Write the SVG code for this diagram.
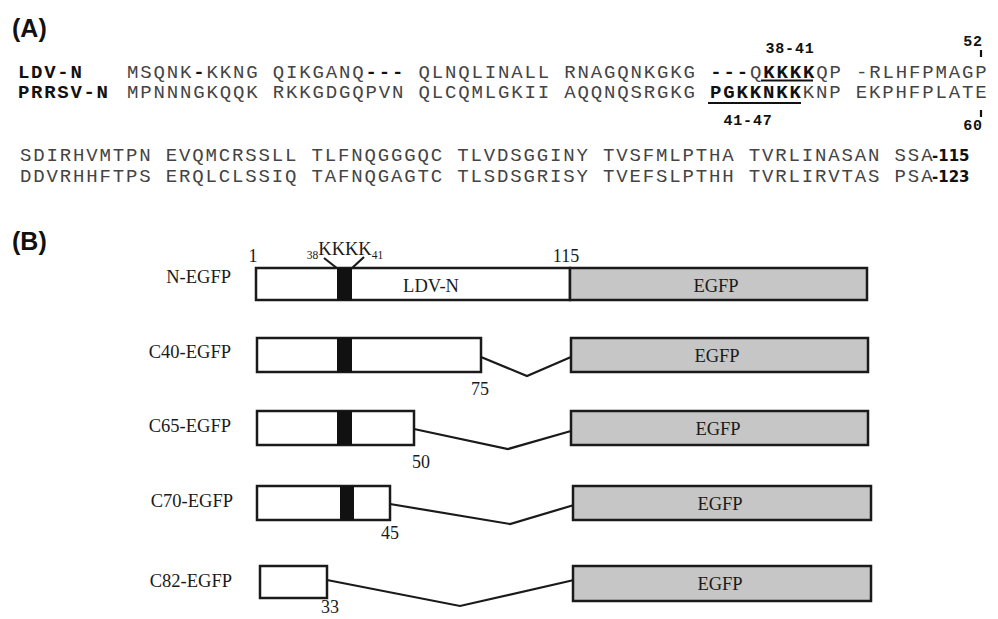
<svg xmlns="http://www.w3.org/2000/svg" width="998" height="619" viewBox="0 0 998 619">
<style>
.panel{font-family:"Liberation Sans",Arial,sans-serif;font-weight:bold;font-size:25px;fill:#111}
.seq{font-family:"Liberation Mono","Courier New",monospace;font-size:19px;letter-spacing:1.85px;fill:#444}
.seq .b{font-weight:bold;fill:#111}
.name{font-family:"Liberation Mono","Courier New",monospace;font-size:19px;letter-spacing:1.7px;font-weight:bold;fill:#111}
.num{font-family:"Liberation Mono","Courier New",monospace;font-size:15px;font-weight:bold;fill:#111;letter-spacing:0.8px}
.end{font-family:"DejaVu Sans",Verdana,sans-serif;font-size:15px;font-weight:bold;fill:#111}
.lbl{font-family:"Liberation Serif","Times New Roman",serif;font-size:18.5px;fill:#1a1a1a}
.pos{font-family:"Liberation Serif","Times New Roman",serif;font-size:18px;fill:#1a1a1a}
.motif{font-family:"Liberation Serif","Times New Roman",serif;fill:#1a1a1a}
.big{font-size:18.5px}
.sub{font-size:11.5px}
.white{fill:#fff;stroke:#1a1a1a;stroke-width:2.5}
.gray{fill:#c5c6c5;stroke:#1a1a1a;stroke-width:2.5}
.blk{fill:#111}
.ln{fill:none;stroke:#1a1a1a;stroke-width:2.2}
.ul{stroke:#111;stroke-width:2.2}
</style>

<!-- Panel A -->
<g id="panelA">
<text class="panel" x="12" y="37">(A)</text>
<text class="name" x="18" y="78">LDV-N</text>
<text class="name" x="18" y="98">PRRSV-N</text>
<text class="seq" x="127" y="78" xml:space="preserve">MSQNK<tspan class="b">-</tspan>KKNG QIKGANQ<tspan class="b">---</tspan> QLNQLINALL RNAGQNKGKG <tspan class="b">---</tspan>Q<tspan class="b">KKKK</tspan>QP -RLHFPMAGP</text>
<text class="seq" x="127" y="98" xml:space="preserve">MPNNNGKQQK RKKGDGQPVN QLCQMLGKII AQQNQSRGKG <tspan class="b">PGKKNKK</tspan>KNP EKPHFPLATE</text>
<line class="ul" x1="761" y1="80.5" x2="813" y2="80.5"/>
<line class="ul" x1="708" y1="103" x2="801" y2="103"/>
<text class="num" x="790" y="53" text-anchor="middle">38-41</text>
<text class="num" x="748" y="125" text-anchor="middle">41-47</text>
<text class="num" x="973" y="46" text-anchor="middle">52</text>
<line class="ul" x1="981" y1="50" x2="981" y2="57"/>
<text class="num" x="973" y="130" text-anchor="middle">60</text>
<line class="ul" x1="981" y1="110" x2="981" y2="117"/>
<text class="seq" x="20" y="161" xml:space="preserve">SDIRHVMTPN EVQMCRSSLL TLFNQGGGQC TLVDSGGINY TVSFMLPTHA TVRLINASAN SSA</text>
<text class="end" x="932" y="161">-115</text>
<text class="seq" x="20" y="182" xml:space="preserve">DDVRHHFTPS ERQLCLSSIQ TAFNQGAGTC TLSDSGRISY TVEFSLPTHH TVRLIRVTAS PSA</text>
<text class="end" x="932" y="182">-123</text>
</g>

<!-- Panel B -->
<text class="panel" x="12" y="250">(B)</text>

<g id="connectors">
<polyline class="ln" points="481,357 527,376 571,357"/>
<polyline class="ln" points="414,429 508,449 571,431"/>
<polyline class="ln" points="390,504 510,524 574,505"/>
<polyline class="ln" points="327,580 460,606 574,580"/>
<line class="ln" x1="324" y1="258" x2="338" y2="269"/>
<line class="ln" x1="364" y1="257" x2="351" y2="269"/>
</g>

<g id="n-egfp">
<text class="lbl" x="231" y="283" text-anchor="end">N-EGFP</text>
<text class="pos" x="253" y="262" text-anchor="middle">1</text>
<text class="pos" x="566" y="262" text-anchor="middle">115</text>
<text class="motif" x="345" y="255" text-anchor="middle"><tspan class="sub" dy="4">38</tspan><tspan class="big" dy="-4">KKKK</tspan><tspan class="sub" dy="4">41</tspan></text>
<rect class="white" x="256" y="268" width="314" height="32"/>
<rect class="blk" x="337" y="268" width="15" height="32"/>
<rect class="gray" x="570" y="268" width="297" height="32"/>
<text class="lbl" x="431" y="292" text-anchor="middle" font-size="17">LDV-N</text>
<text class="lbl" x="716" y="292" text-anchor="middle">EGFP</text>
</g>

<g id="c40-egfp">
<text class="lbl" x="231" y="358" text-anchor="end">C40-EGFP</text>
<rect class="white" x="257" y="338" width="224" height="34"/>
<rect class="blk" x="337" y="338" width="15" height="34"/>
<rect class="gray" x="571" y="338" width="297" height="34"/>
<text class="lbl" x="717" y="362" text-anchor="middle">EGFP</text>
<text class="pos" x="480" y="395" text-anchor="middle">75</text>
</g>

<g id="c65-egfp">
<text class="lbl" x="231" y="432" text-anchor="end">C65-EGFP</text>
<rect class="white" x="257" y="411" width="157" height="34"/>
<rect class="blk" x="337" y="411" width="15" height="34"/>
<rect class="gray" x="571" y="411" width="297" height="34"/>
<text class="lbl" x="718" y="435" text-anchor="middle">EGFP</text>
<text class="pos" x="421" y="468" text-anchor="middle">50</text>
</g>

<g id="c70-egfp">
<text class="lbl" x="233" y="507" text-anchor="end">C70-EGFP</text>
<rect class="white" x="257" y="486" width="133" height="34"/>
<rect class="blk" x="340" y="486" width="14" height="34"/>
<rect class="gray" x="573" y="486" width="298" height="34"/>
<text class="lbl" x="720" y="510" text-anchor="middle">EGFP</text>
<text class="pos" x="390" y="539" text-anchor="middle">45</text>
</g>

<g id="c82-egfp">
<text class="lbl" x="232" y="587" text-anchor="end">C82-EGFP</text>
<rect class="white" x="260" y="566" width="67" height="32"/>
<rect class="gray" x="573" y="566" width="298" height="35"/>
<text class="lbl" x="720" y="590" text-anchor="middle">EGFP</text>
<text class="pos" x="330" y="613" text-anchor="middle">33</text>
</g>
</svg>
